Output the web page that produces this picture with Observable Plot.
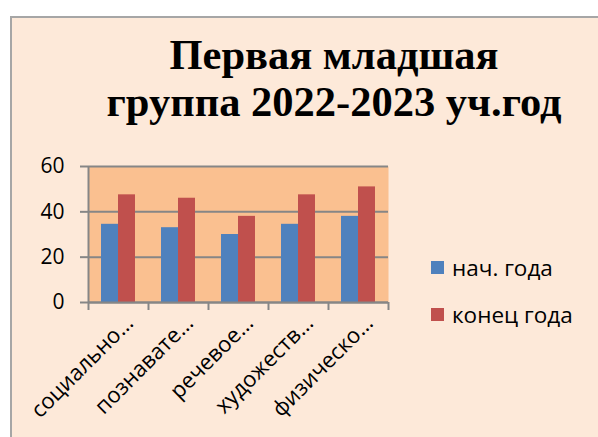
<!DOCTYPE html>
<html><head><meta charset="utf-8">
<script src="https://cdn.jsdelivr.net/npm/d3@7"></script>
<script src="https://cdn.jsdelivr.net/npm/@observablehq/plot@0.6"></script>
<style>
html,body{margin:0;padding:0;background:#fff;}
#chart{position:relative;width:598px;height:437px;overflow:hidden;font-family:"Open Sans",sans-serif;}
.bg{position:absolute;left:10px;top:16px;width:620px;height:460px;background:#FDE9D9;border-left:2px solid #A6A6A6;border-top:2px solid #A6A6A6;}
.title{position:absolute;left:0;top:31px;width:668px;text-align:center;font-family:"Liberation Serif","Times New Roman",serif;font-weight:bold;font-size:42.5px;line-height:47px;color:#000;white-space:nowrap;}
#plot{position:absolute;left:0;top:0;}
#plot svg{background:transparent;overflow:visible;}
.legend{position:absolute;left:431px;top:244px;font-size:22.5px;color:#000;}
.legend .row{display:flex;align-items:center;height:47px;}
.legend .sw{width:13px;height:13px;margin-right:8px;}
</style>
</head><body>
<div id="chart">
  <div class="bg"></div>
  <div class="title">Первая младшая<br>группа 2022-2023 уч.год</div>
  <div id="plot"></div>
  <div class="legend" id="legend"></div>
</div>
<script>
const categories = ["социально-коммуникативное", "познавательное", "речевое", "художественно-эстетическое", "физическое"];
const tickLabels = ["социально…", "познавате…", "речевое…", "художеств…", "физическо…"];
const seriesNames = ["нач. года", "конец года"];
const startValues = [34.5, 33, 30, 34.5, 38];
const endValues = [47.5, 46, 38, 47.5, 51];
const yTicks = [0, 20, 40, 60];
const colors = ["#4F81BD", "#C0504D"];

const startData = categories.map((c, i) => ({category: c, value: startValues[i]}));
const endData = categories.map((c, i) => ({category: c, value: endValues[i]}));
const gray = "#868686";

const chart = Plot.plot({
  width: 598,
  height: 437,
  marginLeft: 88,
  marginRight: 210,
  marginTop: 166,
  marginBottom: 135,
  style: {background: "transparent", fontFamily: "'Open Sans', sans-serif", fontSize: "21px", color: "#000"},
  x: {domain: categories, padding: 0},
  y: {domain: [0, 60]},
  marks: [
    Plot.frame({fill: "#FAC090", stroke: "none"}),
    Plot.gridY(yTicks, {stroke: gray, strokeOpacity: 1, strokeWidth: 2}),
    Plot.axisY(yTicks, {tickSize: 8, tickPadding: 16, stroke: gray, strokeWidth: 2, fill: "#000", fontSize: 21, label: null}),
    Plot.ruleX([categories[0]], {dx: -30, stroke: gray, strokeWidth: 2}),
    Plot.ruleX(categories, {y1: 0, y2: 0, dx: -30, insetBottom: -8, stroke: gray, strokeWidth: 2}),
    Plot.ruleX([categories[categories.length - 1]], {y1: 0, y2: 0, dx: 30, insetBottom: -8, stroke: gray, strokeWidth: 2}),
    Plot.barY(startData, {x: "category", y: "value", fill: colors[0], insetLeft: 13, insetRight: 30}),
    Plot.barY(endData, {x: "category", y: "value", fill: colors[1], insetLeft: 30, insetRight: 13}),
    Plot.ruleY([0], {stroke: gray, strokeWidth: 2}),
    Plot.axisX({tickSize: 0, tickRotate: -45, tickPadding: 17, dx: 11, fontSize: 22, fill: "#000", label: null,
      tickFormat: d => tickLabels[categories.indexOf(d)]})
  ]
});
document.getElementById("plot").appendChild(chart);

const legend = document.getElementById("legend");
seriesNames.forEach((name, i) => {
  const row = document.createElement("div");
  row.className = "row";
  const sw = document.createElement("div");
  sw.className = "sw";
  sw.style.background = colors[i];
  const t = document.createElement("span");
  t.textContent = name;
  row.appendChild(sw);
  row.appendChild(t);
  legend.appendChild(row);
});
</script>
</body></html>
